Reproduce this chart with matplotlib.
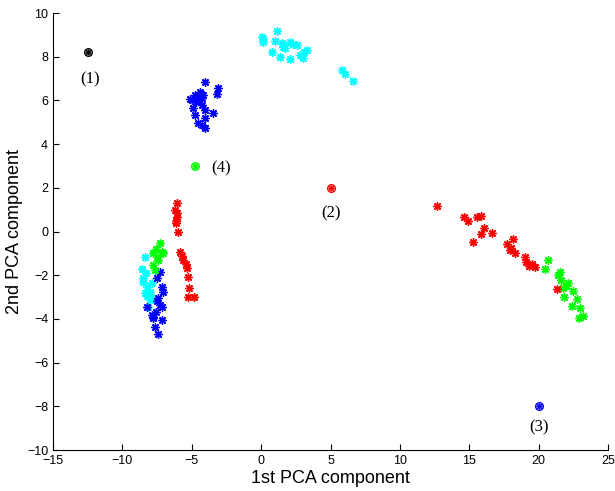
import matplotlib
matplotlib.use('Agg')
import matplotlib.pyplot as plt

# cluster points (1st PCA, 2nd PCA)
cyan_x = [1.12, 0.04, 0.16, 0.1, 1.0, 1.48, 2.08, 2.56, 3.28, 0.76, 1.36, 2.08, 2.8, 3.04,
          1.72, 1.6, 2.3, 3.1, 5.8, 6.04, 6.64,
          -8.37, -8.61, -8.49, -8.25, -8.37, -8.01, -8.13, -7.89, -8.01, -8.5, -8.3, -8.2, -7.95]
cyan_y = [9.18, 8.92, 8.69, 8.8, 8.73, 8.61, 8.69, 8.54, 8.31, 8.2, 8.0, 7.9, 8.08, 7.93,
          8.4, 8.45, 8.6, 8.2, 7.39, 7.19, 6.89,
          -1.15, -1.73, -2.14, -2.53, -2.83, -3.13, -3.44, -2.37, -2.75, -2.3, -1.9, -2.95, -3.0]

blue_x = [-4.05, -3.09, -3.2, -5.13, -4.77, -4.41, -4.17, -4.29, -4.89, -4.77, -4.29, -4.05,
          -3.45, -4.05, -4.53, -4.29, -4.05, -4.6, -4.95, -4.5, -4.35, -4.7,
          -7.29, -7.53, -7.17, -7.05, -7.41, -7.29, -7.17, -8.25, -7.89, -7.77, -7.17, -7.65,
          -7.41, -7.5, -7.6, -7.8]
blue_y = [6.83, 6.58, 6.29, 6.06, 6.25, 6.4, 6.25, 6.1, 5.64, 5.33, 5.79, 5.56,
          5.44, 5.18, 4.95, 4.87, 4.72, 6.15, 6.0, 6.05, 6.3, 5.95,
          -1.84, -2.14, -2.53, -2.75, -3.06, -3.36, -3.44, -3.44, -3.82, -3.97, -4.05, -4.36,
          -4.69, -3.2, -3.7, -3.9]

green_x = [-7.29, -7.17, -7.77, -7.53, -7.77, -7.65, -7.05, -7.4, -7.6, -4.84,
           20.7, 20.46, 21.42, 21.54, 22.14, 21.78, 22.5, 21.83, 22.74, 22.38, 22.98, 23.22,
           22.93, 21.6, 22.0]
green_y = [-0.54, -0.92, -1.0, -1.15, -1.53, -1.76, -1.0, -1.3, -0.8, -2.98,
           -1.3, -1.72, -1.99, -1.84, -2.37, -2.6, -2.71, -3.01, -3.1, -3.41, -3.51, -3.87,
           -3.97, -2.2, -2.5]

red_x = [-6.04, -6.21, -6.09, -6.14, -5.97, -6.1, -6.05,
         -5.85, -5.61, -5.36, -5.25, -5.18, -5.25, -5.7, -5.45, -4.84,
         12.7, 14.62, 14.93, 15.53, 15.82, 16.08, 15.85, 16.62, 15.29, 18.13, 17.74, 17.94,
         18.3, 19.02, 19.09, 19.33, 19.74, 21.3, 18.0, 19.5]
red_y = [1.29, 0.98, 0.68, 0.38, -0.01, 0.5, 0.85,
         -0.92, -1.3, -1.68, -2.07, -2.6, -2.98, -1.1, -1.5, -2.98,
         1.17, 0.68, 0.49, 0.65, 0.72, 0.15, -0.13, -0.08, -0.47, -0.36, -0.59, -0.85,
         -1.0, -1.15, -1.38, -1.58, -1.64, -2.65, -0.75, -1.5]

# cluster centres with their labels
cent_x = [-12.5, 5.0, 20.0, -4.8]
cent_y = [8.2, 2.0, -8.0, 3.0]
cent_col = ['black', '#ff0000', '#0000ff', '#00ff00']
cent_lbl = ['(1)', '(2)', '(3)', '(4)']
lbl_x = [-12.3, 5.0, 20.0, -2.9]
lbl_y = [6.95, 0.85, -8.95, 2.9]

plt.rcParams['font.family'] = ['Liberation Sans', 'DejaVu Sans']

fig = plt.figure(figsize=(6.15, 4.91), dpi=100)
ax = fig.add_axes([0.0862, 0.0835, 0.9024, 0.89])

star = (8, 2, 0)
ms = 6
ax.plot(cyan_x, cyan_y, ls='None', marker=star, ms=ms, mew=1.0, color='#00ffff')
ax.plot(blue_x, blue_y, ls='None', marker=star, ms=ms, mew=1.0, color='#0000ff')
ax.plot(green_x, green_y, ls='None', marker=star, ms=ms, mew=1.0, color='#00ff00')
ax.plot(red_x, red_y, ls='None', marker=star, ms=ms, mew=1.0, color='#ff0000')

for x, y, c, t, lx, ly in zip(cent_x, cent_y, cent_col, cent_lbl, lbl_x, lbl_y):
    ax.plot(x, y, ls='None', marker='o', ms=5.5, mfc='none', mec=c, mew=1.0)
    ax.plot(x, y, ls='None', marker=star, ms=4, mew=0.8, color=c)
    ax.text(lx, ly, t, ha='center', va='center', fontsize=12,
            family=['Liberation Serif', 'DejaVu Serif'])

ax.set_xlim(-15, 25)
ax.set_ylim(-10, 10)
ax.set_xticks(range(-15, 26, 5))
ax.set_yticks(range(-10, 11, 2))
ax.spines['top'].set_visible(False)
ax.spines['right'].set_visible(False)
ax.tick_params(direction='in', length=4, labelsize=9, width=0.8)
ax.set_xlabel('1st PCA component', fontsize=13, labelpad=2)
ax.set_ylabel('2nd PCA component', fontsize=13, labelpad=3)

fig.savefig('out.png', dpi=100)
